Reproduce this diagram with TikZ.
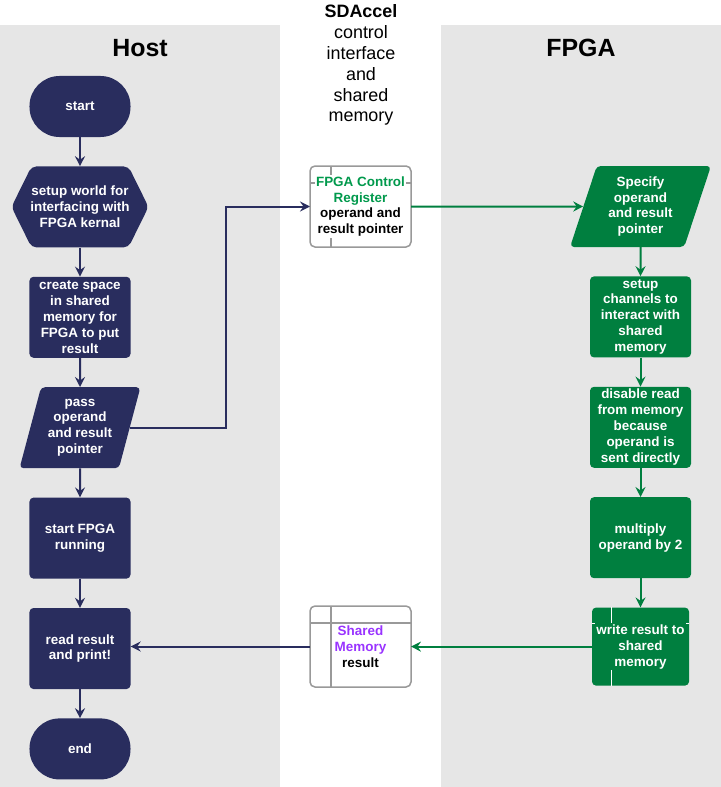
\documentclass[tikz,border=0pt]{standalone}
\usepackage{fontspec}
\setmainfont{Liberation Sans}
\usetikzlibrary{positioning, shapes.geometric, arrows.meta}
\definecolor{hostcolor}{HTML}{292D5E}
\definecolor{fpgacolor}{HTML}{007F3F}
\definecolor{lanecolor}{HTML}{E6E6E6}
\definecolor{boxline}{HTML}{999999}
\definecolor{regcolor}{HTML}{00994C}
\definecolor{memcolor}{HTML}{9933FF}

\begin{document}
\begin{tikzpicture}[x=1bp, y=-1bp, node distance=29bp,
        % Estilos de los nodos
        flowbox/.style={
            rectangle,
            rounded corners=4bp,
            text=white,
            align=center,
            font=\bfseries\fontsize{13.5}{16}\selectfont,
            minimum width=101bp,
            minimum height=81bp,
            inner sep=1bp
        },
        hostbox/.style={flowbox, fill=hostcolor},
        fpgabox/.style={flowbox, fill=fpgacolor},
        terminal/.style={hostbox, rounded corners=30bp, minimum height=61bp},
        ioshape/.style={trapezium, trapezium stretches=true,
            trapezium left angle=73, trapezium right angle=107},
        hexbox/.style={flowbox, fill=lanecolor, minimum width=137bp, minimum height=81bp,
            path picture={\fill[hostcolor, rounded corners=5bp]
                (path picture bounding box.west)
                -- ([xshift=20bp]path picture bounding box.north west)
                -- ([xshift=-20bp]path picture bounding box.north east)
                -- (path picture bounding box.east)
                -- ([xshift=-20bp]path picture bounding box.south east)
                -- ([xshift=20bp]path picture bounding box.south west)
                -- cycle;}
        },
        storebox/.style={draw=boxline, line width=1.5bp, fill=white, rounded corners=5bp,
            minimum width=101bp, minimum height=81bp, outer sep=0pt},
        storetext/.style={align=center, inner sep=1bp,
            font=\bfseries\fontsize{13.5}{16}\selectfont},
        lanetitle/.style={font=\bfseries\fontsize{25}{30}\selectfont},
        hostline/.style={draw=hostcolor, line width=2bp,
            -{Stealth[length=10bp, width=10bp, inset=3.5bp]}},
        fpgaline/.style={hostline, draw=fpgacolor}
    ]

        \useasboundingbox (0,0) rectangle (721,787);

        % Lanes
        \fill[lanecolor] (0,25) rectangle (280,787);
        \fill[lanecolor] (441,25) rectangle (721,787);
        \node[lanetitle] (hosttitle) at (140,48) {Host};
        \node[lanetitle] (fpgatitle) at (581,48) {FPGA};
        \node[align=center, inner sep=0pt, font=\fontsize{18}{21}\selectfont] (sdaccel) at (361,65)
            {\textbf{SDAccel}\\control\\interface\\and\\shared\\memory};

        % Nodes (Host)
        \node[terminal] (start) at (80,106.5) {start};
        \node[hexbox, below=of start] (setup) {setup world for\\interfacing with\\FPGA kernal};
        \node[hostbox, below=of setup] (create) {create space\\in shared\\memory for\\FPGA to put\\result};
        \node[hostbox, ioshape, minimum width=121bp, below=of create] (pass) {pass\\operand\\and result\\pointer};
        \node[hostbox, below=of pass] (run) {start FPGA\\running};
        \node[hostbox, below=of run] (read) {read result\\and print!};
        \node[terminal, below=of read] (stop) {end};

        % Nodes (FPGA)
        \node[fpgabox, ioshape, trapezium left angle=72, trapezium right angle=108,
            minimum width=141bp] (specify) at (640.5,206.5) {Specify\\operand\\and result\\pointer};
        \node[fpgabox, below=of specify] (channels) {setup\\channels to\\interact with\\shared\\memory};
        \node[fpgabox, below=of channels] (disable) {disable read\\from memory\\because\\operand is\\sent directly};
        \node[fpgabox, below=of disable] (multiply) {multiply\\operand by 2};
        \node[fpgabox, minimum width=97bp, minimum height=78bp, below=of multiply] (write) {};
        \draw[white, line width=1bp] ([xshift=20bp]write.north west) -- ([xshift=20bp]write.south west);
        \draw[white, line width=1bp] ([yshift=-16bp]write.north west) -- ([yshift=-16bp]write.north east);
        \node[storetext, fill=fpgacolor, text=white] (writetext) at (write) {write result to\\shared\\memory};

        % Nodes (SDAccel)
        \node[storebox] (ctrl) at (360.5,206.5) {};
        \draw[boxline, line width=1.5bp] ([xshift=21bp]ctrl.north west) -- ([xshift=21bp]ctrl.south west);
        \draw[boxline, line width=1.5bp] ([yshift=-17bp]ctrl.north west) -- ([yshift=-17bp]ctrl.north east);
        \node[storetext, fill=white] (ctrltext) at (ctrl)
            {\textcolor{regcolor}{FPGA Control}\\\textcolor{regcolor}{Register}\\operand and\\result pointer};

        \node[storebox] (shmem) at (360.5,646.5) {};
        \draw[boxline, line width=1.5bp] ([xshift=21bp]shmem.north west) -- ([xshift=21bp]shmem.south west);
        \draw[boxline, line width=1.5bp] ([yshift=-17bp]shmem.north west) -- ([yshift=-17bp]shmem.north east);
        \node[storetext, fill=white] (shmemtext) at (shmem)
            {\textcolor{memcolor}{Shared}\\\textcolor{memcolor}{Memory}\\result};

        \coordinate (bend) at (226,426);

        % Lines
        \draw[hostline] (start) -- (setup);
        \draw[hostline] (setup) -- (create);
        \draw[hostline] (create) -- (pass);
        \draw[hostline] (pass) -- (run);
        \draw[hostline] (run) -- (read);
        \draw[hostline] (read) -- (stop);
        \draw[hostline] (pass.east) -- (pass.east -| bend) |- (ctrl.west);
        \draw[fpgaline] (ctrl.east) -- (specify.west);
        \draw[fpgaline] (specify) -- (channels);
        \draw[fpgaline] (channels) -- (disable);
        \draw[fpgaline] (disable) -- (multiply);
        \draw[fpgaline] (multiply) -- (write);
        \draw[fpgaline] (write.west) -- (write.west -| shmem.east);
        \draw[hostline] (shmem.west) -- (shmem.west -| read.east);

    \end{tikzpicture}
\end{document}
